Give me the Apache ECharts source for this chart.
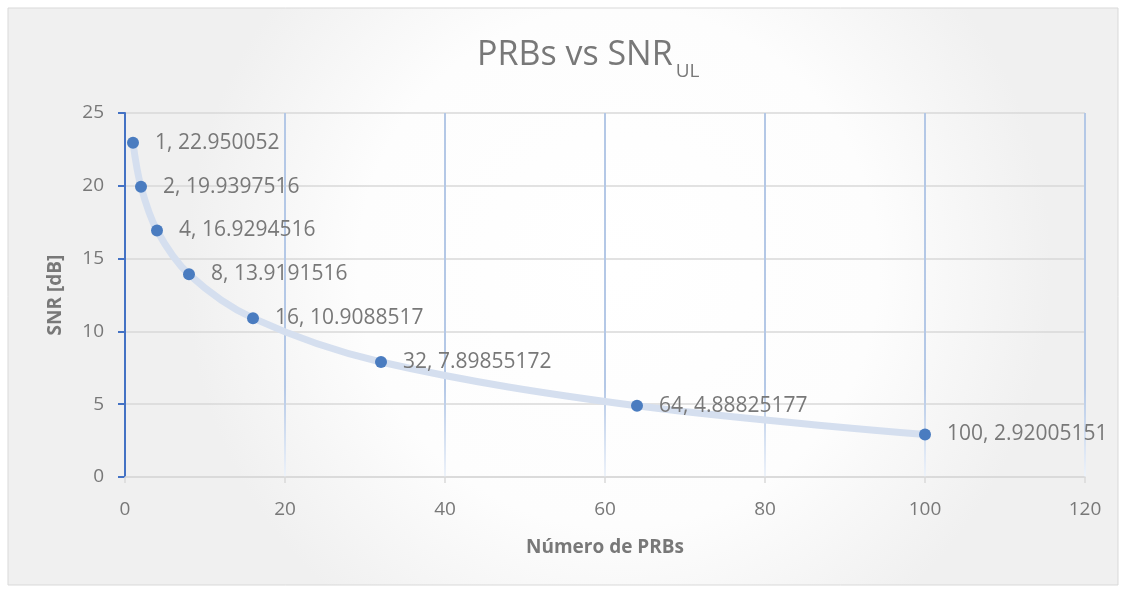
<!DOCTYPE html>
<html><head><meta charset="utf-8">
<script src="https://cdn.jsdelivr.net/npm/echarts@6/dist/echarts.min.js"></script>
<style>html,body{margin:0;padding:0;background:#fff}#c{width:1125px;height:589px}</style>
</head><body><div id="c"></div>
<script>
var prbs = [1, 2, 4, 8, 16, 32, 64, 100];
var snr = [22.950052, 19.9397516, 16.9294516, 13.9191516, 10.9088517, 7.89855172, 4.88825177, 2.92005151];
var xTicks = [0, 20, 40, 60, 80, 100, 120];
var yTicks = [0, 5, 10, 15, 20, 25];

var chart = echarts.init(document.getElementById('c'));
var font = '"Open Sans", "Liberation Sans", sans-serif';
var txt = '#787878';
var data = prbs.map(function (p, i) { return [p, snr[i]]; });
chart.setOption({
  backgroundColor: 'transparent',
  graphic: [{
    type: 'rect', z: -10, silent: true,
    shape: { x: 8, y: 8, width: 1110, height: 577 },
    style: {
      stroke: '#d9d9d9', lineWidth: 1,
      fill: new echarts.graphic.RadialGradient(0.55, 0.45, 0.75, [
        { offset: 0, color: '#ffffff' }, { offset: 0.6, color: '#fdfdfd' }, { offset: 1, color: '#f0f0f0' }
      ])
    }
  }],
  title: {
    text: '{a|PRBs vs SNR}{b|UL}',
    left: 472, top: 33,
    textStyle: {
      fontWeight: 'normal',
      rich: {
        a: { fontFamily: font, fontSize: 34, fontWeight: 'normal', color: txt, verticalAlign: 'top', lineHeight: 44 },
        b: { fontFamily: font, fontSize: 19, fontWeight: 'normal', color: txt, verticalAlign: 'top', lineHeight: 40, padding: [24, 0, 0, 3] }
      }
    }
  },
  grid: { left: 125, right: 40, top: 113, bottom: 112, containLabel: false },
  xAxis: {
    type: 'value', min: 0, max: 120, interval: 20,
    name: 'Número de PRBs', nameLocation: 'middle', nameGap: 61,
    nameTextStyle: { fontFamily: font, fontSize: 19, fontWeight: 'bold', color: txt },
    axisLine: { show: true, onZero: false, lineStyle: { color: '#d9d9d9', width: 1.5 } },
    axisTick: { show: true, length: 6, lineStyle: { color: '#d9d9d9', width: 1.5 } },
    axisLabel: { fontFamily: font, fontSize: 19, color: txt, margin: 23 },
    splitLine: { show: true, lineStyle: { width: 2, color: new echarts.graphic.LinearGradient(0, 113, 0, 478, [
      { offset: 0, color: '#b4c8e6' }, { offset: 0.75, color: '#b4c8e6' }, { offset: 1, color: '#eef3fa' }
    ], true) } }
  },
  yAxis: {
    type: 'value', min: 0, max: 25, interval: 5,
    name: 'SNR [dB]', nameLocation: 'middle', nameGap: 60, nameRotate: 90,
    nameTextStyle: { fontFamily: font, fontSize: 19, fontWeight: 'bold', color: txt },
    axisLine: { show: true, lineStyle: { color: '#4472c4', width: 2 } },
    axisTick: { show: true, length: 7, lineStyle: { color: '#4472c4', width: 2 } },
    axisLabel: { fontFamily: font, fontSize: 19, color: txt, margin: 21 },
    splitLine: { show: true, lineStyle: { color: '#d9d9d9', width: 1.5 } }
  },
  series: [{
    type: 'line', data: data, smooth: 0.35,
    symbol: 'circle', symbolSize: 12,
    itemStyle: { color: '#4a7cc0' },
    lineStyle: { color: '#d5dfef', width: 7 },
    z: 5,
    label: {
      show: true, position: 'right', distance: 16,
      fontFamily: font, fontSize: 21, color: txt,
      formatter: function (p) { return p.value[0] + ', ' + p.value[1]; }
    }
  }]
});
</script></body></html>
